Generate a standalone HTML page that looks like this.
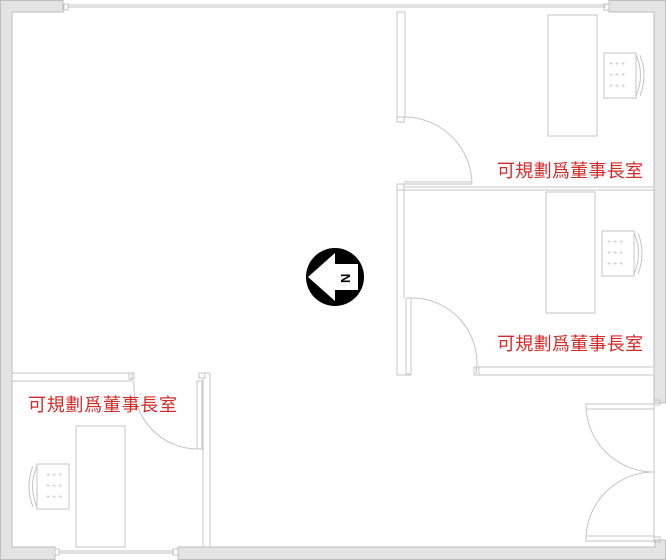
<!DOCTYPE html>
<html><head><meta charset="utf-8"><style>
html,body{margin:0;padding:0;background:#fff;}
svg{display:block}
text{font-family:"Liberation Sans","Noto Sans CJK TC",sans-serif;fill:#d42a2a;font-size:18px}
</style></head><body>
<svg width="666" height="560" viewBox="0 0 666 560" xmlns="http://www.w3.org/2000/svg">
<g fill="#e4e4e4" stroke="#bdbdbd" stroke-width="1">
<path d="M0.5 0.5 H63 V12 H12 V547 H55 V559.5 H0.5 Z"/>
<path d="M178 547 H655 V540 H665.5 V559.5 H178 Z"/>
<path d="M609 0.5 H665.5 V403 H654 V12 H609 Z"/>
</g>
<g fill="none" stroke="#c4c4c4" stroke-width="1">
<rect x="64" y="4" width="4" height="6"/>
<line x1="68" y1="5" x2="606" y2="5"/>
<line x1="68" y1="7" x2="606" y2="7"/>
<rect x="604" y="4" width="5" height="6"/>
<rect x="55" y="549" width="4" height="6"/>
<line x1="59" y1="551" x2="174" y2="551"/>
<line x1="59" y1="553" x2="174" y2="553"/>
<rect x="173" y="549" width="5" height="6"/>
<line x1="654" y1="403" x2="654" y2="540"/>
<rect x="654" y="400" width="6" height="5"/>
<rect x="654" y="537" width="6" height="5"/>
<rect x="586" y="404" width="68" height="5"/>
<rect x="586" y="536" width="68" height="5"/>
<path d="M586 409 A68 68 0 0 0 654 472"/>
<path d="M586 536 A68 68 0 0 1 654 472"/>
<rect x="397" y="12" width="8" height="105"/>
<rect x="397" y="117" width="7" height="5"/>
<path d="M404 117 A68 68 0 0 1 472 184"/>
<line x1="404" y1="184" x2="472" y2="184"/>
<line x1="404" y1="182" x2="472" y2="182"/>
<rect x="397" y="184" width="7" height="6"/>
<line x1="397" y1="190" x2="654" y2="190"/>
<line x1="404" y1="187" x2="654" y2="187"/>
<line x1="397" y1="190" x2="397" y2="375"/>
<line x1="404" y1="190" x2="404" y2="298"/>
<rect x="406" y="298" width="5" height="76"/>
<path d="M411 298 A65 65 0 0 1 476 374"/>
<line x1="397" y1="375" x2="411" y2="375"/>
<rect x="474" y="367" width="5" height="8"/>
<rect x="479" y="367" width="175" height="8"/>
<rect x="12" y="373" width="120" height="8"/>
<rect x="129" y="373" width="5" height="6"/>
<path d="M134 381 A64 64 0 0 0 197 449"/>
<rect x="197" y="381" width="5" height="68"/>
<rect x="199" y="373" width="6" height="5"/>
<line x1="203" y1="378" x2="203" y2="547"/>
<line x1="210" y1="373" x2="210" y2="547"/>
<line x1="205" y1="373" x2="210" y2="373"/>
<rect x="548" y="15" width="49" height="121"/>
<rect x="546" y="192" width="49" height="121"/>
<rect x="76" y="426" width="49" height="121"/>
<rect x="604" y="53" width="32" height="45"/>
<path d="M636 55 Q645 75 636 96 M640 55 Q648 75 640 96"/>
<rect x="602" y="231" width="32" height="45"/>
<path d="M634 233 Q643 253 634 274 M638 233 Q646 253 638 274"/>
<rect x="37" y="464" width="32" height="45"/>
<path d="M37 466 Q28 486 37 507 M33 466 Q25 486 33 507"/>
</g>
<g>
<text x="609" y="66" style="fill:#bbb;font-size:7px">+ + +</text>
<text x="609" y="77" style="fill:#bbb;font-size:7px">+ + +</text>
<text x="609" y="88" style="fill:#bbb;font-size:7px">+ + +</text>
<text x="607" y="244" style="fill:#bbb;font-size:7px">+ + +</text>
<text x="607" y="255" style="fill:#bbb;font-size:7px">+ + +</text>
<text x="607" y="266" style="fill:#bbb;font-size:7px">+ + +</text>
<text x="46" y="477" style="fill:#bbb;font-size:7px">+ + +</text>
<text x="46" y="488" style="fill:#bbb;font-size:7px">+ + +</text>
<text x="46" y="499" style="fill:#bbb;font-size:7px">+ + +</text>
</g>
<circle cx="335" cy="277" r="29" fill="#000"/>
<path d="M308 277 L335 253 V264 H358 V290 H335 V301 Z" fill="#fff"/>
<text x="340" y="283" style="fill:#000;font-size:13px;font-weight:bold" transform="rotate(-90 345 278)">N</text>
<text x="497" y="177" textLength="146">可規劃爲董事長室</text>
<text x="497" y="350" textLength="146">可規劃爲董事長室</text>
<text x="28" y="411" textLength="149">可規劃爲董事長室</text>
</svg>
</body></html>
